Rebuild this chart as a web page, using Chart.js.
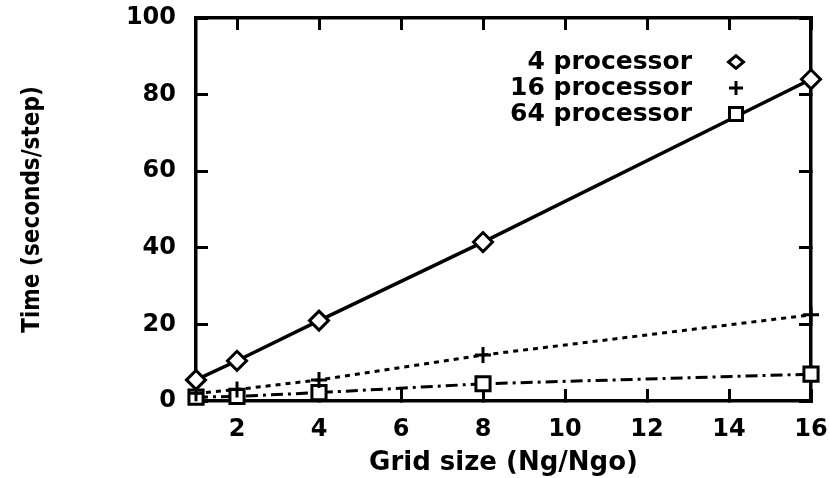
<!DOCTYPE html>
<html>
<head>
<meta charset="utf-8">
<script src="https://cdn.jsdelivr.net/npm/chart.js@4/dist/chart.umd.min.js"></script>
<style>
  html, body { margin: 0; padding: 0; background: #fff; }
  #wrap { width: 830px; height: 478px; }
</style>
</head>
<body>
<div id="wrap"><canvas id="c" width="830" height="478"></canvas></div>
<script>
// Grid size ratio (Ng/Ngo) and time per step for each processor count
const gridSizes = [1, 2, 4, 8, 16];
const time4 = [5.5, 10.5, 21, 41.5, 84];
const time16 = [2, 3, 5.5, 12, 22.5];
const time64 = [1, 1.2, 2.2, 4.5, 7];
const seriesLabels = ['4 processor', '16 processor', '64 processor'];

// Tick positions
const xTickValues = [2, 4, 6, 8, 10, 12, 14, 16];
const yTickValues = [0, 20, 40, 60, 80, 100];

const FAMILY = "'DejaVu Sans', 'Liberation Sans', sans-serif";
const INK = '#000';

const toPoints = (ys) => gridSizes.map((x, i) => ({ x, y: ys[i] }));

const setTicks = (values) => (scale) => {
  scale.ticks = values.map(v => ({ value: v }));
};

// Fixed scale box size, no extra room for overhanging labels
const fixBox = (w, h) => (s) => {
  if (w !== null) s.width = w;
  if (h !== null) s.height = h;
  s.paddingLeft = s.paddingRight = s.paddingTop = s.paddingBottom = 0;
};

// Inward tick marks on all four sides
const frameGrid = { drawOnChartArea: false, tickLength: -12, lineWidth: 3, color: INK };
const frameBorder = { color: INK, width: 3.5 };
const tickFont = { family: FAMILY, size: 24, weight: 'bold' };

// Legend inside the plot, text right-aligned with a marker column
const insideLegend = {
  id: 'insideLegend',
  afterDraw(chart) {
    const { ctx, chartArea } = chart;
    const textRight = chartArea.right - 119;
    const markX = chartArea.right - 75;
    ctx.save();
    ctx.font = "bold 25px " + FAMILY;
    ctx.textAlign = 'right';
    ctx.textBaseline = 'middle';
    chart.data.datasets.forEach((ds, i) => {
      const y = chartArea.top + 44 + i * 26;
      ctx.fillStyle = INK;
      ctx.fillText(ds.label, textRight, y);
      ctx.lineWidth = 3;
      ctx.strokeStyle = INK;
      ctx.fillStyle = '#fff';
      ctx.beginPath();
      if (ds.pointStyle === 'rectRot') {
        const s = 7.5;
        ctx.moveTo(markX - s, y); ctx.lineTo(markX, y - s * 0.85);
        ctx.lineTo(markX + s, y); ctx.lineTo(markX, y + s * 0.85);
        ctx.closePath(); ctx.fill(); ctx.stroke();
      } else if (ds.pointStyle === 'cross') {
        const s = 7;
        ctx.moveTo(markX - s, y); ctx.lineTo(markX + s, y);
        ctx.moveTo(markX, y - s); ctx.lineTo(markX, y + s);
        ctx.stroke();
      } else {
        const s = 6.5;
        ctx.rect(markX - s, y - s, 2 * s, 2 * s);
        ctx.fill(); ctx.stroke();
      }
    });
    ctx.restore();
  }
};

new Chart(document.getElementById('c'), {
  type: 'line',
  data: {
    datasets: [
      {
        label: seriesLabels[0], data: toPoints(time4),
        borderColor: INK, borderWidth: 3.5, pointStyle: 'rectRot', pointRadius: 9.5,
        pointBackgroundColor: '#fff', pointBorderColor: INK, pointBorderWidth: 3
      },
      {
        label: seriesLabels[1], data: toPoints(time16),
        borderColor: INK, borderWidth: 3, borderDash: [5, 5], pointStyle: 'cross', pointRadius: 8,
        pointBorderColor: INK, pointBorderWidth: 3
      },
      {
        label: seriesLabels[2], data: toPoints(time64),
        borderColor: INK, borderWidth: 3, borderDash: [12, 5, 3, 5], pointStyle: 'rect', pointRadius: 10,
        pointBackgroundColor: '#fff', pointBorderColor: INK, pointBorderWidth: 3
      }
    ]
  },
  options: {
    responsive: false,
    animation: false,
    devicePixelRatio: 1,
    clip: false,
    layout: { padding: { top: 18, right: 19, bottom: 0, left: 0 } },
    plugins: { legend: { display: false }, tooltip: { enabled: false } },
    elements: { line: { tension: 0, fill: false } },
    scales: {
      x: {
        type: 'linear', position: 'bottom', min: 1, max: 16,
        afterBuildTicks: setTicks(xTickValues),
        afterFit: fixBox(null, 77),
        grid: frameGrid, border: frameBorder,
        ticks: { color: INK, font: tickFont, padding: 26, maxRotation: 0, autoSkip: false },
        title: {
          display: true, text: 'Grid size (Ng/Ngo)', color: INK,
          font: { family: FAMILY, size: 26, weight: 'bold', lineHeight: 1 },
          padding: { top: 0, bottom: 2 }
        }
      },
      y: {
        type: 'linear', position: 'left', min: 0, max: 100,
        afterBuildTicks: setTicks(yTickValues),
        afterFit: fixBox(196, null),
        grid: frameGrid, border: frameBorder,
        ticks: { color: INK, font: tickFont, padding: 32 },
        title: {
          display: true, text: 'Time (seconds/step)', color: INK,
          font: { family: "'DejaVu Sans Condensed', " + FAMILY, size: 24, weight: 'bold', lineHeight: 1.2 },
          padding: { top: 18, bottom: 0 }
        }
      },
      x2: {
        axis: 'x', type: 'linear', position: 'top', min: 1, max: 16,
        afterBuildTicks: setTicks(xTickValues),
        afterFit: fixBox(null, 0),
        grid: frameGrid, border: frameBorder,
        ticks: { display: false }
      },
      y2: {
        axis: 'y', type: 'linear', position: 'right', min: 0, max: 100,
        afterBuildTicks: setTicks(yTickValues),
        afterFit: fixBox(0, null),
        grid: frameGrid, border: frameBorder,
        ticks: { display: false }
      }
    }
  },
  plugins: [insideLegend]
});
</script>
</body>
</html>
